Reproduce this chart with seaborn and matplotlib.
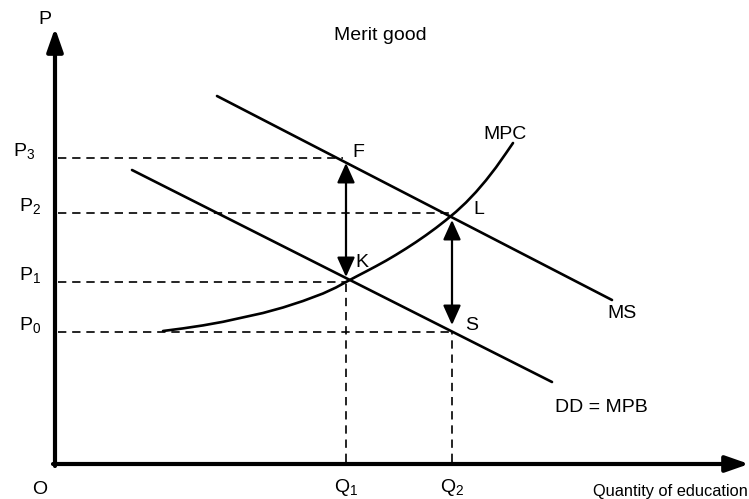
import matplotlib
matplotlib.use("Agg")
import matplotlib.pyplot as plt
import seaborn as sns
import pandas as pd

# chart units: origin at the axis corner, roughly one unit per pixel
ms_x = [162, 557]
ms_y = [368, 164]
dd_x = [77, 497]
dd_y = [294, 82]
mpc_x = [108, 128, 148, 168, 188, 208, 228, 248, 268, 281, 291, 301, 311,
         321, 331, 341, 351, 361, 371, 381, 391, 401, 411, 421, 431, 441,
         451, 458]
mpc_y = [133, 135.6, 138.6, 142.2, 146.6, 151, 156.5, 163, 170.5, 176.5,
         182, 187.3, 192.5, 197.8, 203.3, 209.2, 215.4, 221.9, 228.8,
         236.1, 243.9, 252.2, 261.5, 272, 283.7, 296.6, 310.8, 321]

price_labels = ["P$_0$", "P$_1$", "P$_2$", "P$_3$"]
price_levels = [132, 182, 251, 306]
price_ends = [397, 291, 395, 288]
qty_labels = ["Q$_1$", "Q$_2$"]
qty_levels = [291, 397]
qty_tops = [182, 132]

point_labels = ["F", "L", "K", "S"]
point_x = [297, 418, 300, 410]
point_y = [307, 250, 197, 134]

# double arrows (x, bottom, top)
gap_x = [291, 397]
gap_low = [187, 139]
gap_high = [301, 244]

sns.set_theme(style="white")
plt.rcParams["font.family"] = ["Liberation Sans", "DejaVu Sans"]
plt.rcParams["mathtext.fontset"] = "custom"
plt.rcParams["mathtext.rm"] = "Liberation Sans"
plt.rcParams["mathtext.default"] = "regular"
plt.rcParams["text.color"] = "black"

fig = plt.figure(figsize=(7.49, 4.99), dpi=100)
ax = fig.add_axes([0, 0, 1, 1])
ax.set_xlim(-55, 694)
ax.set_ylim(-35, 464)
ax.axis("off")

curves = pd.concat([
    pd.DataFrame({"x": ms_x, "y": ms_y, "curve": "MS"}),
    pd.DataFrame({"x": dd_x, "y": dd_y, "curve": "DD"}),
    pd.DataFrame({"x": mpc_x, "y": mpc_y, "curve": "MPC"}),
])
sns.lineplot(data=curves, x="x", y="y", units="curve", estimator=None,
             sort=False, color="black", linewidth=1.9, ax=ax, legend=False)

# guide lines
for lvl, end in zip(price_levels, price_ends):
    ax.plot([3, end], [lvl, lvl], color="black", lw=1.2, ls=(0, (5, 3.5)))
for q, top in zip(qty_levels, qty_tops):
    ax.plot([q, q], [2, top], color="black", lw=1.2, ls=(0, (5, 3.5)))

# axes with arrows
ax.annotate("", xy=(0, 436), xytext=(0, -2),
            arrowprops=dict(arrowstyle="-|>,head_length=1.0,head_width=0.35",
                            color="black", lw=3, shrinkA=0, shrinkB=0,
                            mutation_scale=14))
ax.annotate("", xy=(694, 0), xytext=(-2, 0),
            arrowprops=dict(arrowstyle="-|>,head_length=1.0,head_width=0.35",
                            color="black", lw=3, shrinkA=0, shrinkB=0,
                            mutation_scale=14))

for gx, lo, hi in zip(gap_x, gap_low, gap_high):
    ax.annotate("", xy=(gx, hi), xytext=(gx, lo),
                arrowprops=dict(arrowstyle="<|-|>,head_length=0.6,head_width=0.27",
                                color="black", lw=1.6, shrinkA=0, shrinkB=0,
                                mutation_scale=20))

fs = 14
ax.text(-10, 445, "P", fontsize=fs, ha="center", va="center")
ax.text(325, 429, "Merit good", fontsize=fs, ha="center", va="center")
for lab, lvl, dx in zip(price_labels, price_levels, [-36, -36, -36, -42]):
    ax.text(dx, lvl + 2, lab, fontsize=fs, ha="left", va="baseline")
for lab, q in zip(qty_labels, qty_levels):
    ax.text(q, -28, lab, fontsize=fs, ha="center", va="baseline")
ax.text(-15, -26, "O", fontsize=fs, ha="center", va="center")
ax.text(693, -32, "Quantity of education", fontsize=11.8, ha="right", va="baseline")
for lab, px, py in zip(point_labels, point_x, point_y):
    ax.text(px, py, lab, fontsize=fs, ha="left", va="baseline")
ax.text(428, 325, "MPC", fontsize=fs, ha="left", va="baseline")
ax.text(552, 146, "MS", fontsize=fs, ha="left", va="baseline")
ax.text(500, 52, "DD = MPB", fontsize=fs, ha="left", va="baseline")

fig.savefig("out.png", dpi=100)
